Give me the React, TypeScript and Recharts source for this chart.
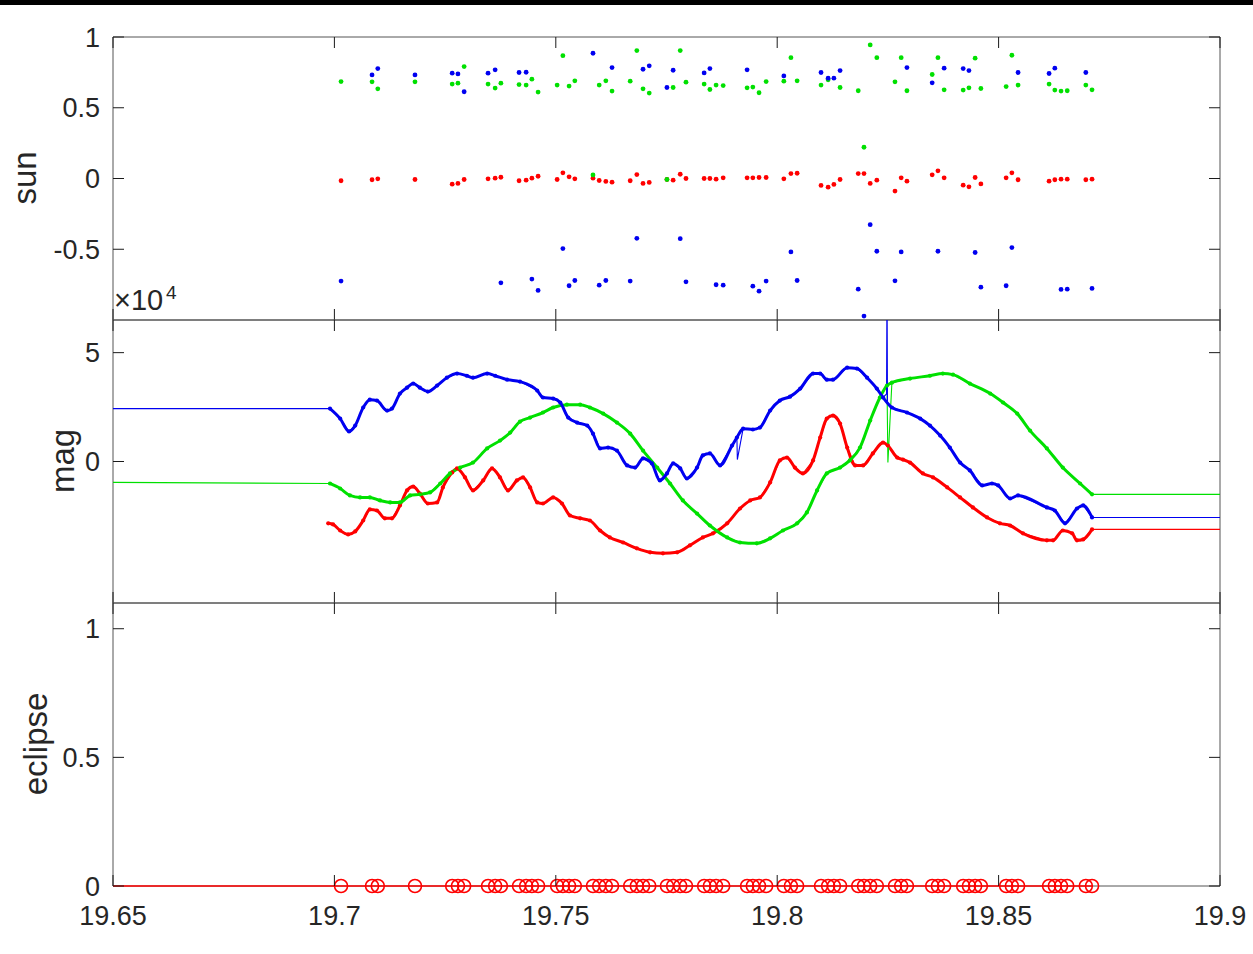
import React from 'react'
import { ComposedChart, Line, Scatter, XAxis, YAxis, ReferenceArea } from 'recharts'

// shared time axis
const xDomain = [19.65, 19.9]
const xTicks = [19.65, 19.7, 19.75, 19.8, 19.85, 19.9]

// --- sun panel: one sample per observation time ---
const sunDomain = [-1, 1]
const sunTicks = [-0.5, 0, 0.5, 1]
const sunTime = [
  19.7015, 19.7085, 19.7098, 19.7182, 19.7266, 19.7279, 19.7293, 19.7347, 19.7363, 19.7376,
  19.7417, 19.7433, 19.7446, 19.746, 19.7503, 19.7516, 19.753, 19.7543, 19.7584, 19.7598,
  19.7613, 19.7627, 19.7668, 19.7683, 19.7697, 19.7711, 19.7751, 19.7765, 19.7781, 19.7794,
  19.7835, 19.7848, 19.7862, 19.7878, 19.7932, 19.7945, 19.7959, 19.7975, 19.8015, 19.8031,
  19.8045, 19.8099, 19.8115, 19.8128, 19.8142, 19.8183, 19.8196, 19.821, 19.8225, 19.8266,
  19.828, 19.8293, 19.835, 19.8363, 19.8377, 19.842, 19.8433, 19.8447, 19.846, 19.8517,
  19.853, 19.8544, 19.8614, 19.8627, 19.8641, 19.8655, 19.8697, 19.8711,
]
const sunRed = [
  -0.016, -0.009, -0.002, -0.007, -0.04, -0.035, -0.007, -0.002, 0.002, 0.009,
  -0.016, -0.012, 0.002, 0.016, -0.007, 0.04, 0.012, -0.002, 0.002, -0.014,
  -0.021, -0.026, -0.016, 0.028, -0.035, -0.028, -0.007, -0.012, 0.03, 0,
  0, 0, -0.005, 0.005, 0.005, 0.005, 0.007, 0.007, -0.002, 0.035,
  0.037, -0.049, -0.061, -0.042, -0.007, 0.035, 0.035, -0.035, -0.012, -0.089,
  0.005, -0.019, 0.026, 0.054, 0.005, -0.047, -0.059, 0.007, -0.038, 0.005,
  0.04, -0.009, -0.019, -0.009, -0.005, -0.005, -0.009, -0.005,
]
const sunGreen = [
  0.685, 0.683, 0.634, 0.683, 0.667, 0.674, 0.791, 0.667, 0.639, 0.674,
  0.664, 0.66, 0.702, 0.611, 0.66, 0.868, 0.653, 0.69, 0.025, 0.66,
  0.69, 0.618, 0.688, 0.904, 0.634, 0.604, -0.007, 0.643, 0.904, 0.681,
  0.667, 0.629, 0.66, 0.657, 0.641, 0.646, 0.606, 0.685, 0.688, 0.854,
  0.69, 0.66, 0.697, null, 0.643, 0.62, 0.221, 0.944, 0.854, 0.683,
  0.854, 0.62, 0.735, 0.854, 0.627, 0.625, 0.641, 0.85, 0.636, 0.65,
  0.871, 0.66, 0.667, 0.625, 0.618, 0.62, 0.66, 0.627,
]
const sunBlue = [
  -0.725, 0.732, 0.777, 0.732, 0.744, 0.739, 0.613, 0.744, 0.768, -0.737,
  0.749, 0.751, -0.711, -0.791, null, -0.495, -0.758, -0.721, 0.885, -0.754,
  -0.721, 0.784, -0.725, -0.423, 0.772, 0.796, 0.643, 0.765, -0.425, -0.73,
  0.746, 0.777, -0.751, -0.754, 0.768, -0.761, -0.796, -0.725, 0.725, -0.519,
  -0.721, 0.749, 0.709, 0.709, 0.763, -0.782, -0.972, -0.326, -0.514, -0.723,
  -0.519, 0.784, 0.676, -0.514, 0.78, 0.777, 0.763, -0.523, -0.768, -0.758,
  -0.488, 0.749, 0.742, 0.78, -0.784, -0.782, 0.749, -0.777,
]

// --- mag panel, values in units of 1e4 ---
const magDomain = [-6.5, 6.5]
const magTicks = [0, 5]
const blueMag = [
  [19.65, 2.43], [19.699, 2.43], [19.7013, 1.97], [19.7033, 1.38], [19.7047, 1.65], [19.7065, 2.48],
  [19.708, 2.84], [19.7096, 2.8], [19.7119, 2.34], [19.713, 2.43], [19.7148, 3.12], [19.7164, 3.39],
  [19.7178, 3.58], [19.7193, 3.39], [19.7211, 3.21], [19.7232, 3.49], [19.7254, 3.85], [19.7277, 4.04],
  [19.7299, 3.94], [19.7313, 3.85], [19.7345, 4.04], [19.7363, 3.94], [19.739, 3.76], [19.7419, 3.67],
  [19.7458, 3.26], [19.7471, 2.94], [19.7494, 2.89], [19.751, 2.71], [19.7528, 2.02], [19.7548, 1.79],
  [19.7571, 1.65], [19.7584, 1.28], [19.76, 0.6], [19.7618, 0.64], [19.7638, 0.5], [19.7661, -0.18],
  [19.7679, -0.28], [19.7697, 0.14], [19.7717, -0.09], [19.7735, -0.87], [19.7751, -0.55], [19.7765, -0.09],
  [19.7781, -0.32], [19.7796, -0.78], [19.7819, -0.28], [19.7832, 0.28], [19.7848, 0.37], [19.7871, -0.18],
  [19.7898, 0.73], [19.7909, 1.1], [19.7923, 1.51], [19.7945, 1.47], [19.7961, 1.56], [19.7984, 2.34],
  [19.8006, 2.8], [19.8029, 2.98], [19.8052, 3.35], [19.8081, 4.04], [19.8097, 4.04], [19.8112, 3.76],
  [19.8126, 3.76], [19.8158, 4.31], [19.818, 4.27], [19.8203, 3.85], [19.8225, 3.35], [19.8239, 2.94],
  [19.8259, 2.48], [19.8293, 2.25], [19.8323, 1.97], [19.8345, 1.65], [19.8368, 1.19], [19.839, 0.64],
  [19.8413, -0.05], [19.8435, -0.41], [19.8463, -1.1], [19.8485, -1.01], [19.8499, -1.1], [19.8526, -1.7],
  [19.8544, -1.56], [19.8609, -2.11], [19.8627, -2.25], [19.865, -2.84], [19.8677, -2.16], [19.8691, -2.02],
  [19.8711, -2.57], [19.9, -2.57],
]
const blueMagGlitch = [[19.791, 0.09], [19.8247, 3.1], [19.8248, 8.5], [19.8249, 2.7]]
const greenMag = [
  [19.65, -0.96], [19.699, -1.01], [19.7013, -1.24], [19.7035, -1.56], [19.7058, -1.65], [19.708, -1.65],
  [19.7103, -1.79], [19.7126, -1.88], [19.7148, -1.88], [19.7171, -1.56], [19.7193, -1.51], [19.7216, -1.42],
  [19.7239, -1.01], [19.7261, -0.55], [19.7284, -0.28], [19.7313, -0.05], [19.7345, 0.6], [19.7374, 0.96],
  [19.7397, 1.33], [19.7419, 1.83], [19.7442, 2.02], [19.7471, 2.25], [19.7494, 2.48], [19.7525, 2.61],
  [19.7555, 2.61], [19.7577, 2.48], [19.7607, 2.2], [19.7638, 1.79], [19.7668, 1.28], [19.7697, 0.5],
  [19.7729, -0.28], [19.7758, -1.01], [19.7787, -1.79], [19.7819, -2.39], [19.7848, -2.94], [19.7887, -3.49],
  [19.7916, -3.72], [19.7954, -3.76], [19.7984, -3.53], [19.8013, -3.17], [19.8045, -2.84], [19.8067, -2.34],
  [19.809, -1.33], [19.8112, -0.55], [19.8142, -0.28], [19.8164, 0.05], [19.8187, 0.64], [19.821, 1.88],
  [19.8232, 2.94], [19.8248, 3.49], [19.8259, 3.62], [19.83, 3.81], [19.8345, 3.94], [19.8374, 4.04],
  [19.8397, 3.99], [19.8435, 3.58], [19.8481, 3.12], [19.851, 2.71], [19.8542, 2.2], [19.8571, 1.42],
  [19.8609, 0.6], [19.8645, -0.28], [19.8684, -1.01], [19.8711, -1.51], [19.9, -1.51],
]
const greenMagGlitch = [[19.825, -0.05]]
const redMag = [
  [19.6986, -2.84], [19.6997, -2.89], [19.7013, -3.17], [19.7031, -3.35], [19.7047, -3.21], [19.7065, -2.71],
  [19.708, -2.2], [19.7096, -2.25], [19.7114, -2.61], [19.713, -2.61], [19.7148, -2.02], [19.7164, -1.33],
  [19.7178, -1.15], [19.7193, -1.47], [19.7211, -1.93], [19.7232, -1.88], [19.7245, -1.19], [19.7266, -0.5],
  [19.7277, -0.32], [19.7295, -0.73], [19.7313, -1.33], [19.7336, -0.87], [19.7356, -0.32], [19.7374, -0.73],
  [19.7392, -1.33], [19.7412, -0.87], [19.7426, -0.73], [19.7442, -1.19], [19.7458, -1.88], [19.7471, -1.93],
  [19.7494, -1.65], [19.7514, -1.93], [19.7532, -2.48], [19.7555, -2.61], [19.7577, -2.71], [19.76, -3.17],
  [19.7622, -3.49], [19.7652, -3.72], [19.7683, -3.99], [19.7713, -4.17], [19.7742, -4.22], [19.7774, -4.17],
  [19.7803, -3.85], [19.7832, -3.49], [19.7855, -3.3], [19.7887, -2.84], [19.7916, -2.16], [19.7939, -1.79],
  [19.7961, -1.65], [19.7984, -0.96], [19.8006, 0.05], [19.8022, 0.18], [19.804, -0.28], [19.8058, -0.55],
  [19.8081, 0.05], [19.8097, 1.1], [19.8112, 1.97], [19.8126, 2.11], [19.8142, 1.74], [19.8158, 0.64],
  [19.8176, -0.18], [19.8194, -0.18], [19.8216, 0.37], [19.8239, 0.87], [19.825, 0.73], [19.8271, 0.18],
  [19.8284, 0.09], [19.83, -0.05], [19.8329, -0.55], [19.8352, -0.73], [19.8384, -1.19], [19.8413, -1.65],
  [19.8442, -2.11], [19.8474, -2.57], [19.8503, -2.84], [19.8526, -2.94], [19.8555, -3.3], [19.8609, -3.62],
  [19.8623, -3.62], [19.8645, -3.17], [19.8666, -3.3], [19.8677, -3.62], [19.8691, -3.58], [19.8711, -3.12],
  [19.9, -3.12],
]

// --- eclipse panel ---
const eclipseDomain = [0, 1.1]
const eclipseTicks = [0, 0.5, 1]
const eclipseStart = 19.65
const eclipseFlag = [
  0, 0, 0, 0, 0, 0, 0, 0, 0, 0,
  0, 0, 0, 0, 0, 0, 0, 0, 0, 0,
  0, 0, 0, 0, 0, 0, 0, 0, 0, 0,
  0, 0, 0, 0, 0, 0, 0, 0, 0, 0,
  0, 0, 0, 0, 0, 0, 0, 0, 0, 0,
  0, 0, 0, 0, 0, 0, 0, 0, 0, 0,
  0, 0, 0, 0, 0, 0, 0, 0,
]

const RED = '#ff0000'
const GREEN = '#00e000'
const BLUE = '#0000f0'
const FONT = '"Liberation Sans", Arial, Helvetica, sans-serif'
const W = 1253
const PLOT_W = 1107
const PLOT_H = 283
const TICK_LEN = 11
const TICK_COLOR = '#1a1a1a'

const textStyle = { fill: '#262626', fontSize: 27, fontFamily: FONT }

const sunPoints = (vals: (number | null)[]) =>
  sunTime.map((x, i) => ({ x, y: vals[i] })).filter((p) => p.y !== null)

const toPts = (arr: number[][]) => arr.map(([x, y]) => ({ x, y }))
// the dense, dotted stretch of each curve; flat ends and glitches stay thin
const thickPart = (arr: number[][]) => toPts(arr.filter(([x]) => x >= 19.698 && x <= 19.8712))
const thinPart = (arr: number[][], glitch: number[][] = []) =>
  toPts([...arr, ...glitch].sort((a, b) => a[0] - b[0]))

const eclipsePoints = sunTime.map((x, i) => ({ x, y: eclipseFlag[i] }))
const eclipseLine = [{ x: eclipseStart, y: 0 }, ...eclipsePoints]

const dotShape = (color: string) => (p: any) => <circle cx={p.cx} cy={p.cy} r={2.4} fill={color} />
const ringShape = (p: any) => (
  <circle cx={p.cx} cy={p.cy} r={6.5} fill="none" stroke={RED} strokeWidth={1.6} />
)

// y tick: label on the left plus inward tick marks on both sides
const Y_MARGIN = 13
function YTick(props: any) {
  const { x, y, payload } = props
  const left = x + Y_MARGIN
  const right = left + PLOT_W
  return (
    <g>
      <text x={x} y={y} dy="0.355em" textAnchor="end" {...textStyle}>
        {payload.value}
      </text>
      <line x1={left} x2={left + TICK_LEN} y1={y} y2={y} stroke={TICK_COLOR} />
      <line x1={right - TICK_LEN} x2={right} y1={y} y2={y} stroke={TICK_COLOR} />
    </g>
  )
}

// x tick: inward marks at bottom and top of the panel, label only on the last panel
const X_MARGIN = 20
const makeXTick = (showLabel: boolean) => (props: any) => {
  const { x, y, payload } = props
  const base = y - (showLabel ? X_MARGIN : 0)
  const top = base - PLOT_H
  return (
    <g>
      {showLabel && (
        <text x={x} y={y} dy="0.71em" textAnchor="middle" {...textStyle}>
          {payload.value}
        </text>
      )}
      <line x1={x} x2={x} y1={base} y2={base - TICK_LEN} stroke={TICK_COLOR} />
      <line x1={x} x2={x} y1={top} y2={top + TICK_LEN} stroke={TICK_COLOR} />
    </g>
  )
}

function axes(yDomain: number[], yTicks: number[], clip: boolean, showXLabels: boolean) {
  return [
    <ReferenceArea
      key="frame"
      x1={xDomain[0]}
      x2={xDomain[1]}
      y1={yDomain[0]}
      y2={yDomain[1]}
      fill="none"
      fillOpacity={0}
      stroke="#555"
      strokeWidth={1}
      ifOverflow="visible"
    />,
    <XAxis
      key="x"
      dataKey="x"
      type="number"
      domain={xDomain}
      ticks={xTicks}
      allowDataOverflow={clip}
      height={showXLabels ? 40 : 1}
      tick={makeXTick(showXLabels)}
      tickLine={false}
      axisLine={false}
      tickSize={0}
      tickMargin={showXLabels ? X_MARGIN : 0}
      interval={0}
    />,
    <YAxis
      key="y"
      dataKey="y"
      type="number"
      domain={yDomain}
      ticks={yTicks}
      allowDataOverflow={clip}
      width={113}
      tick={<YTick />}
      tickLine={false}
      axisLine={false}
      tickSize={0}
      tickMargin={Y_MARGIN}
      interval={0}
    />,
  ]
}

function magLines(main: number[][], glitch: number[][], color: string) {
  return [
    <Line
      key={color + 'thin'}
      data={thinPart(main, glitch)}
      dataKey="y"
      type="linear"
      stroke={color}
      strokeWidth={1.1}
      dot={false}
      isAnimationActive={false}
    />,
    <Line
      key={color + 'thick'}
      data={thickPart(main)}
      dataKey="y"
      type="monotone"
      stroke={color}
      strokeWidth={3}
      dot={{ r: 2.1, fill: color, stroke: 'none' }}
      isAnimationActive={false}
    />,
  ]
}

const rotated = (text: string, cx: number, cy: number) => (
  <div
    style={{
      position: 'absolute',
      left: cx,
      top: cy,
      transform: 'translate(-50%, -50%) rotate(-90deg)',
      fontFamily: FONT,
      fontSize: 33,
      lineHeight: 1,
      color: '#262626',
      whiteSpace: 'nowrap',
    }}
  >
    {text}
  </div>
)

export default function App() {
  return (
    <div style={{ position: 'fixed', left: 0, top: 0, width: W, height: 954, background: '#fff', overflow: 'hidden' }}>
      <div style={{ position: 'absolute', left: 0, top: 0, width: W, height: 5, background: '#000' }} />

      <div style={{ position: 'absolute', left: 0, top: 0 }}>
        <ComposedChart width={W} height={330} margin={{ top: 37, right: 33, bottom: 9, left: 0 }}>
          {axes(sunDomain, sunTicks, false, false)}
          <Scatter data={sunPoints(sunRed)} shape={dotShape(RED)} isAnimationActive={false} />
          <Scatter data={sunPoints(sunGreen)} shape={dotShape(GREEN)} isAnimationActive={false} />
          <Scatter data={sunPoints(sunBlue)} shape={dotShape(BLUE)} isAnimationActive={false} />
        </ComposedChart>
      </div>

      <div style={{ position: 'absolute', left: 0, top: 310 }}>
        <ComposedChart width={W} height={303} margin={{ top: 10, right: 33, bottom: 9, left: 0 }}>
          {axes(magDomain, magTicks, true, false)}
          {magLines(redMag, [], RED)}
          {magLines(greenMag, greenMagGlitch, GREEN)}
          {magLines(blueMag, blueMagGlitch, BLUE)}
        </ComposedChart>
      </div>

      <div style={{ position: 'absolute', left: 0, top: 593 }}>
        <ComposedChart width={W} height={361} margin={{ top: 10, right: 33, bottom: 28, left: 0 }}>
          {axes(eclipseDomain, eclipseTicks, false, true)}
          <Line
            data={eclipseLine}
            dataKey="y"
            type="linear"
            stroke={RED}
            strokeWidth={1.3}
            dot={false}
            isAnimationActive={false}
          />
          <Scatter data={eclipsePoints} shape={ringShape} isAnimationActive={false} />
        </ComposedChart>
      </div>

      {rotated('sun', 24, 178)}
      {rotated('mag', 62, 461)}
      {rotated('eclipse', 35, 744)}
      <div style={{ position: 'absolute', left: 114, top: 286, fontFamily: FONT, fontSize: 29, lineHeight: 1, color: '#262626' }}>
        ×10
      </div>
      <div style={{ position: 'absolute', left: 166, top: 283, fontFamily: FONT, fontSize: 19, lineHeight: 1, color: '#262626' }}>
        4
      </div>
    </div>
  )
}
